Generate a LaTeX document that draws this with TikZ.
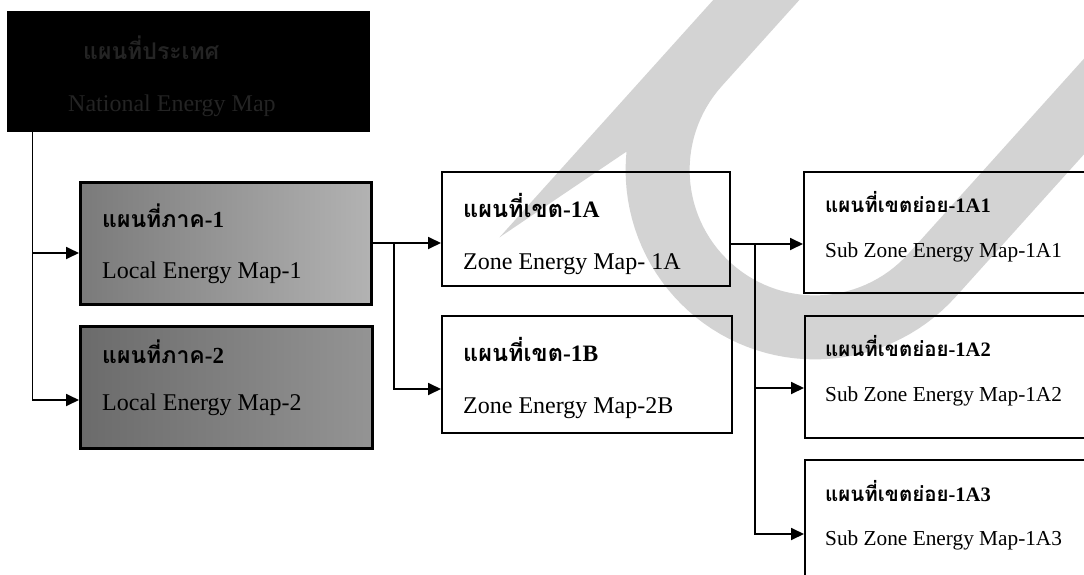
\documentclass[tikz,border=0pt]{standalone}
\usepackage{fontspec}
\setmainfont{Liberation Serif}
\newfontfamily\thaifont[Script=Thai]{Loma}
\usetikzlibrary{arrows.meta}
\definecolor{bandgray}{RGB}{211,211,211}
\newcommand\thx[2]{{\thaifont #1}#2}
\begin{document}
\begin{tikzpicture}[x=1pt,y=-1pt,
  frame/.style={draw=black, line width=2.2pt, inner sep=0pt, anchor=north west},
  darkframe/.style={frame, line width=3pt},
  conn/.style={line width=1.8pt},
  arr/.style={conn, -{Triangle[length=13pt,width=12pt]}},
  thz/.style={anchor=base west, inner sep=0pt, font=\bfseries\fontsize{23.5}{27}\selectfont},
  ths/.style={anchor=base west, inner sep=0pt, font=\bfseries\fontsize{20.5}{24}\selectfont},
  thl/.style={anchor=base west, inner sep=0pt, font=\bfseries\fontsize{23}{27}\selectfont},
  enz/.style={anchor=base west, inner sep=0pt, font=\fontsize{24}{28}\selectfont},
  ens/.style={anchor=base west, inner sep=0pt, font=\fontsize{21.3}{25}\selectfont},
]
\useasboundingbox (0,0) rectangle (1084,575);
\clip (0,0) rectangle (1084,575);

% light grey swoosh in the background
\draw[bandgray, line width=64pt, line cap=butt]
  (798.4,-46.8) -- (698,64.7)
  -- plot[domain=0:180, samples=61] ({815+157.4*cos(222-\x)},{170+157.4*sin(222-\x)})
  -- (1132.7,52.4);

% boxes
\node[frame, fill=black, minimum width=361pt, minimum height=119pt] (T) at (7,11) {};
\node[darkframe, left color=black!52, right color=black!30, minimum width=291pt, minimum height=122pt] (L1) at (79,181) {};
\node[darkframe, left color=black!58, right color=black!42, minimum width=292pt, minimum height=122pt] (L2) at (79,325) {};
\node[frame, minimum width=288pt, minimum height=114pt] (Z1A) at (441,171) {};
\node[frame, minimum width=290pt, minimum height=117pt] (Z1B) at (441,315) {};
\node[frame, minimum width=320pt, minimum height=121pt] (S1) at (803,171) {};
\node[frame, minimum width=320pt, minimum height=122pt] (S2) at (804,315) {};
\node[frame, minimum width=320pt, minimum height=160pt] (S3) at (804,459) {};

% bus lines and branch heights
\coordinate (busA) at (32.5,0);
\coordinate (busB) at (394,0);
\coordinate (busC) at (755,0);
\coordinate (ya1) at (0,253);
\coordinate (ya2) at (0,400);
\coordinate (yb1) at (0,243);
\coordinate (yb2) at (0,389);
\coordinate (yc1) at (0,244);
\coordinate (yc2) at (0,388);
\coordinate (yc3) at (0,534);

% connectors
\draw[arr] (busA |- T.south) |- (L2.west |- ya2);
\draw[arr] (busA |- ya1) -- (L1.west |- ya1);
\draw[arr] (L1.east |- yb1) -- (Z1A.west |- yb1);
\draw[arr] (busB |- yb1) |- (Z1B.west |- yb2);
\draw[arr] (Z1A.east |- yc1) -- (S1.west |- yc1);
\draw[arr] (busC |- yc1) |- (S3.west |- yc3);
\draw[arr] (busC |- yc2) -- (S2.west |- yc2);

% labels
\node[thl, text=black!86] (tT1) at (83,60) {\thx{แผนที่ประเทศ}{}};
\node[enz, text=black!86] (tT2) at (68,112) {National Energy Map};

\node[thl] (tL1a) at (102,227) {\thx{แผนที่ภาค}{-1}};
\node[enz] (tL1b) at (102,278) {Local Energy Map-1};
\node[thl] (tL2a) at (102,363) {\thx{แผนที่ภาค}{-2}};
\node[enz] (tL2b) at (102,410) {Local Energy Map-2};

\node[thz] (tZ1a) at (463,217) {\thx{แผนที่เขต}{-1A}};
\node[enz] (tZ1b) at (463,269) {Zone Energy Map- 1A};
\node[thz] (tZ2a) at (463,361) {\thx{แผนที่เขต}{-1B}};
\node[enz] (tZ2b) at (463,413) {Zone Energy Map-2B};

\node[ths] (tS1a) at (825,212) {\thx{แผนที่เขตย่อย}{-1A1}};
\node[ens] (tS1b) at (825,257) {Sub Zone Energy Map-1A1};
\node[ths] (tS2a) at (825,356) {\thx{แผนที่เขตย่อย}{-1A2}};
\node[ens] (tS2b) at (825,401) {Sub Zone Energy Map-1A2};
\node[ths] (tS3a) at (825,501) {\thx{แผนที่เขตย่อย}{-1A3}};
\node[ens] (tS3b) at (825,545) {Sub Zone Energy Map-1A3};
\end{tikzpicture}
\end{document}
